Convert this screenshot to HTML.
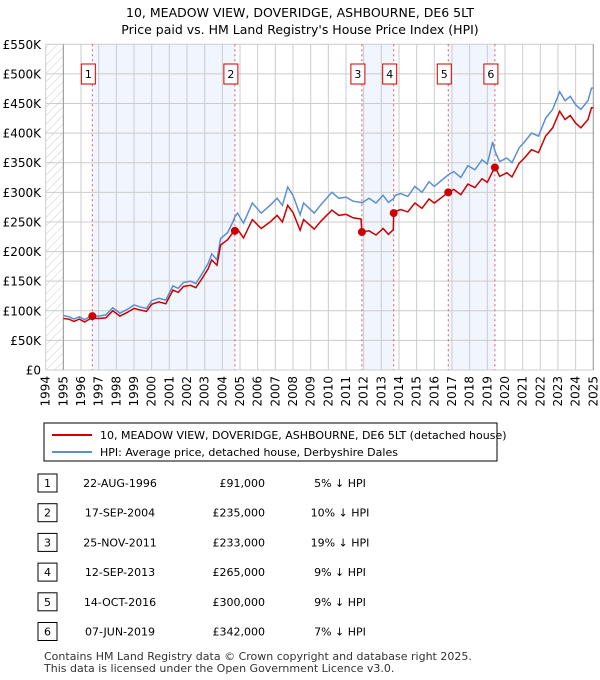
<!DOCTYPE html>
<html><head><meta charset="utf-8"><style>
body{margin:0;background:#fff;font-family:"Liberation Sans","DejaVu Sans",sans-serif;}
#wrap{position:relative;width:600px;height:680px;overflow:hidden}
text{font-family:"DejaVu Sans","Liberation Sans",sans-serif}
</style></head><body><div id="wrap">
<svg id="svg" width="600" height="680">
<defs><pattern id="hatch" width="6" height="6" patternUnits="userSpaceOnUse" patternTransform="rotate(45)"><line x1="0" y1="0" x2="0" y2="6" stroke="#ccc" stroke-width="1"/></pattern></defs>
<text x="300" y="17" text-anchor="middle" font-size="12.5">10, MEADOW VIEW, DOVERIDGE, ASHBOURNE, DE6 5LT</text>
<text x="300" y="34" text-anchor="middle" font-size="12.5">Price paid vs. HM Land Registry's House Price Index (HPI)</text>
<g id="plot"></g>
<rect x="44" y="423" width="453" height="38" fill="#fff" stroke="#000" stroke-width="1"/>
<line x1="52" y1="435" x2="92" y2="435" stroke="#cc0000" stroke-width="2"/>
<text x="100" y="439" font-size="11">10, MEADOW VIEW, DOVERIDGE, ASHBOURNE, DE6 5LT (detached house)</text>
<line x1="52" y1="452" x2="92" y2="452" stroke="#5b8fd4" stroke-width="2"/>
<text x="100" y="456" font-size="11">HPI: Average price, detached house, Derbyshire Dales</text>
<g id="table"></g>
<text x="44" y="660" font-size="11" fill="#333">Contains HM Land Registry data © Crown copyright and database right 2025.</text>
<text x="44" y="672" font-size="11" fill="#333">This data is licensed under the Open Government Licence v3.0.</text>
</svg></div>
<script>
const yTicks=[0,50,100,150,200,250,300,350,400,450,500,550];
const yTickLabels=["£0","£50K","£100K","£150K","£200K","£250K","£300K","£350K","£400K","£450K","£500K","£550K"];
const xYears=[1994,1995,1996,1997,1998,1999,2000,2001,2002,2003,2004,2005,2006,2007,2008,2009,2010,2011,2012,2013,2014,2015,2016,2017,2018,2019,2020,2021,2022,2023,2024,2025];
const dates=[1995.0,1995.3,1995.6,1995.9,1996.2,1996.6,1997.0,1997.4,1997.8,1998.2,1998.6,1999.0,1999.4,1999.7,2000.0,2000.4,2000.8,2001.2,2001.5,2001.8,2002.2,2002.5,2002.8,2003.2,2003.4,2003.7,2003.9,2004.3,2004.6,2004.7,2004.85,2005.2,2005.7,2006.2,2006.7,2007.1,2007.4,2007.7,2008.0,2008.4,2008.6,2009.2,2009.6,2010.2,2010.6,2011.0,2011.4,2011.85,2011.9,2012.3,2012.7,2013.1,2013.4,2013.68,2013.7,2013.8,2014.1,2014.5,2014.9,2015.3,2015.7,2016.0,2016.4,2016.8,2017.1,2017.5,2017.9,2018.3,2018.7,2019.0,2019.3,2019.45,2019.7,2020.1,2020.4,2020.8,2021.1,2021.5,2021.9,2022.3,2022.7,2023.1,2023.4,2023.7,2024.0,2024.3,2024.7,2024.9,2025.0];
const hpiValues=[92,90,86,90,85,92,91,93,105,96,102,110,106,104,117,121,118,142,138,148,150,146,160,180,196,186,222,232,250,258,265,248,282,265,278,290,278,309,295,262,282,265,280,300,290,292,285,283,282,290,282,295,283,289,290,295,298,293,310,300,318,310,320,330,335,325,345,338,355,348,385,368,352,358,350,375,385,400,395,425,440,470,455,462,448,440,455,476,476];
const priceValues=[87,86,82,86,81,88,87,88,100,91,97,104,101,99,111,115,112,135,131,141,143,139,152,171,186,177,211,220,232,235,238,223,254,239,250,261,250,278,266,236,254,238,252,270,261,263,257,255,233,235,228,239,229,237,265,268,271,267,282,273,289,282,291,300,305,296,314,308,323,317,335,342,327,333,326,349,358,372,367,395,409,437,423,430,417,409,423,443,443];
const saleDates=[1996.64,2004.71,2011.9,2013.7,2016.79,2019.43];
const salePrices=[91,235,233,265,300,342];
const saleLabels=["1","2","3","4","5","6"];
const tableDates=["22-AUG-1996","17-SEP-2004","25-NOV-2011","12-SEP-2013","14-OCT-2016","07-JUN-2019"];
const tablePrices=["£91,000","£235,000","£233,000","£265,000","£300,000","£342,000"];
const tablePcts=["5% ↓ HPI","10% ↓ HPI","19% ↓ HPI","9% ↓ HPI","9% ↓ HPI","7% ↓ HPI"];

const NS="http://www.w3.org/2000/svg";
const X0=45.7,X1=593.3,Y0=370,Y1=44.3;
const xs=t=>X0+(t-1994)/31*(X1-X0);
const ys=v=>Y0-v/550*(Y0-Y1);
const plot=document.getElementById('plot');
function mk(tag,at,parent){const e=document.createElementNS(NS,tag);for(const k in at)e.setAttribute(k,at[k]);(parent||plot).appendChild(e);return e;}
// shaded bands
for(let i=0;i<6;i+=2){const r=mk('rect',{x:xs(saleDates[i]),y:Y1,width:xs(saleDates[i+1])-xs(saleDates[i]),height:Y0-Y1,fill:'#eef3fc',opacity:0.8});

}
const h=mk('rect',{x:X0,y:Y1,width:xs(1995)-X0,height:Y0-Y1,fill:'url(#hatch)'});


// grid
xYears.forEach(yr=>{const l=mk('line',{x1:xs(yr),x2:xs(yr),y1:Y1,y2:Y0,stroke:'#cccccc','stroke-width':1});


const t=mk('text',{x:0,y:0,'font-size':12,'text-anchor':'end',transform:`translate(${xs(yr)+4},376) rotate(-90)`});t.textContent=yr;

});
yTicks.forEach((v,i)=>{const l=mk('line',{x1:X0,x2:X1,y1:ys(v),y2:ys(v),stroke:'#cccccc','stroke-width':1});


const t=mk('text',{x:41,y:ys(v)+4.5,'font-size':12,'text-anchor':'end'});t.textContent=yTickLabels[i];

});
const ax=mk('line',{x1:xs(1995),x2:xs(1995),y1:Y1,y2:Y0,stroke:'#999','stroke-width':1});


const ax2=mk('line',{x1:X1,x2:X1,y1:Y1,y2:Y0,stroke:'#999','stroke-width':1});


// sale lines
saleDates.forEach(d=>{const l=mk('line',{x1:xs(d),x2:xs(d),y1:Y1,y2:Y0,stroke:'#e05555','stroke-width':1,'stroke-dasharray':'2,3'});

});
function pts(arr){return dates.map((d,i)=>xs(d).toFixed(1)+','+ys(arr[i]).toFixed(1)).join(' ');}
const hl=mk('polyline',{points:pts(hpiValues),fill:'none',stroke:'#5b8fd4','stroke-width':1.5});


const pl=mk('polyline',{points:pts(priceValues),fill:'none',stroke:'#cc0000','stroke-width':1.5});


saleDates.forEach((d,i)=>{const c=mk('circle',{cx:xs(d),cy:ys(salePrices[i]),r:4,fill:'#cc0000'});


const b=mk('rect',{x:xs(d)-11,y:64,width:14,height:20,fill:'#fff',stroke:'#cc0000','stroke-width':1});


const t=mk('text',{x:xs(d)-4,y:78,'font-size':11,'text-anchor':'middle'});t.textContent=saleLabels[i];

});
// table
const tb=document.getElementById('table');
saleLabels.forEach((s,i)=>{const y=483+i*29.7;
const b=mk('rect',{x:38,y:y-9,width:19,height:18,fill:'#fff',stroke:'#000','stroke-width':1},tb);


const vals=[[47.5,s,'middle'],[120,tableDates[i],'middle'],[265,tablePrices[i],'end'],[340,tablePcts[i],'middle']];
vals.forEach(v=>{const t=mk('text',{x:v[0],y:y+4,'font-size':11,'text-anchor':v[2]},tb);t.textContent=v[1];

});});
</script></body></html>
